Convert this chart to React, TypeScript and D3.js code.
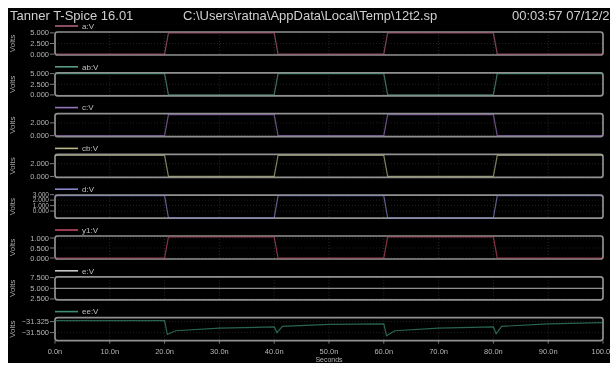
import * as d3 from "d3";

const titleLeft = "Tanner T-Spice 16.01";
const titleCenter = "C:\\Users\\ratna\\AppData\\Local\\Temp\\12t2.sp";
const titleRight = "00:03:57 07/12/2022";

const signalNames = ["a:V", "ab:V", "c:V", "cb:V", "d:V", "y1:V", "e:V", "ee:V"];
const signalColors = ["#b0607e", "#5a9a88", "#9474b8", "#b8b888", "#8686c8", "#c04862", "#c8c8c8", "#3a8f74"];

const yDomains: [number, number][] = [
  [-0.2, 5.2],
  [-0.2, 5.2],
  [-0.15, 3.45],
  [-0.15, 3.45],
  [-1.3, 2.9],
  [-0.05, 1.1],
  [2.3, 7.7],
  [-31.627, -31.261],
];
const yTicks = [
  [0, 2.5, 5],
  [0, 2.5, 5],
  [0, 2],
  [0, 2],
  [0, 1, 2, 3],
  [0, 0.5, 1],
  [2.5, 5, 7.5],
  [-31.5, -31.325],
];

const xTicksNs = [0, 10, 20, 30, 40, 50, 60, 70, 80, 90, 100];

// [time ns, volts]
const aWave = [[0, 0], [20, 0], [20.7, 5], [40, 5], [40.7, 0], [60, 0], [60.7, 5], [80, 5], [80.7, 0], [100, 0]];
const abWave = [[0, 5], [20, 5], [20.7, 0], [40, 0], [40.7, 5], [60, 5], [60.7, 0], [80, 0], [80.7, 5], [100, 5]];
const cWave = [[0, 0], [20, 0], [20.7, 3.3], [40, 3.3], [40.7, 0], [60, 0], [60.7, 3.3], [80, 3.3], [80.7, 0], [100, 0]];
const cbWave = [[0, 3.3], [20, 3.3], [20.7, 0], [40, 0], [40.7, 3.3], [60, 3.3], [60.7, 0], [80, 0], [80.7, 3.3], [100, 3.3]];
const dWave = [[0, 2.8], [20, 2.8], [20.7, -1.25], [40, -1.25], [40.7, 2.8], [60, 2.8], [60.7, -1.25], [80, -1.25], [80.7, 2.8], [100, 2.8]];
const y1Wave = [[0, 0], [20, 0], [20.7, 1.05], [40, 1.05], [40.7, 0], [60, 0], [60.7, 1.05], [80, 1.05], [80.7, 0], [100, 0]];
const eWave = [[0, 5], [100, 5]];
const eeWave = [
  [0, -31.31], [20, -31.31], [20.5, -31.53], [22, -31.47], [30, -31.43], [40, -31.41],
  [40.5, -31.5], [41.5, -31.4], [50, -31.37], [60, -31.36], [60.5, -31.55], [62, -31.47],
  [70, -31.43], [80, -31.41], [80.5, -31.52], [81.5, -31.4], [90, -31.36], [100, -31.34],
];
const waves = [aWave, abWave, cWave, cbWave, dWave, y1Wave, eWave, eeWave];

const FONT = "'Liberation Sans', Arial, sans-serif";

export default function App() {
  const width = 610;
  const height = 367;
  const plotLeft = 55;
  const plotRight = 603;
  const firstTop = 32;
  const step = 40.8;
  const panelH = 23;

  const x = d3.scaleLinear().domain([0, 100]).range([plotLeft, plotRight]);
  const fmt = d3.format(".3f");
  const lastBottom = firstTop + step * 7 + panelH;

  return (
    <div style={{ position: "fixed", left: 0, top: 0 }}>
      <svg width={width} height={height} style={{ display: "block" }}>
        <rect x={8} y={8} width={602} height={355} fill="#000" />

        {/* title bar */}
        <g fontFamily={FONT} fontSize={13} fill="#d0d0d0">
          <text x={10} y={19.5}>{titleLeft}</text>
          <text x={183} y={19.5}>{titleCenter}</text>
          <text x={512} y={19.5}>{titleRight}</text>
        </g>

        {signalNames.map((name, i) => {
          const top = firstTop + i * step;
          const bottom = top + panelH;
          const y = d3.scaleLinear().domain(yDomains[i]).range([bottom, top]);
          const line = d3
            .line<number[]>()
            .x((d) => x(d[0]))
            .y((d) => y(d[1]));
          const mid = (top + bottom) / 2;
          return (
            <g key={name}>
              {/* Volts label */}
              <text
                transform={`translate(15,${mid}) rotate(-90)`}
                textAnchor="middle"
                fontFamily={FONT}
                fontSize={8}
                fill="#a8a8a8"
              >
                Volts
              </text>

              {/* grid */}
              {xTicksNs.slice(1, -1).map((t) => (
                <line key={"v" + t} x1={x(t)} x2={x(t)} y1={top} y2={bottom}
                  stroke="#333" strokeWidth={0.8} strokeDasharray="1,2" />
              ))}
              {yTicks[i].map((v) => (
                <line key={"h" + v} x1={plotLeft} x2={plotRight} y1={y(v)} y2={y(v)}
                  stroke="#2a2a2a" strokeWidth={0.8} strokeDasharray="1,2" />
              ))}

              {/* y ticks */}
              {yTicks[i].map((v) => (
                <g key={"t" + v}>
                  <line x1={50} x2={54} y1={y(v)} y2={y(v)} stroke="#999" strokeWidth={0.8} />
                  <text x={49} y={y(v)} dy="0.34em" textAnchor="end" fontFamily={FONT}
                    fontSize={i === 4 ? 6.5 : 7.5} fill="#b4b4b4">
                    {fmt(v)}
                  </text>
                </g>
              ))}

              {/* panel frame */}
              <rect x={plotLeft} y={top} width={plotRight - plotLeft} height={panelH}
                rx={2.5} fill="none" stroke="#909090" strokeWidth={1.7} />

              {/* trace */}
              <path d={line(waves[i]) as string} fill="none" stroke={signalColors[i]}
                strokeWidth={1.2} opacity={0.7} />

              {/* legend */}
              <line x1={plotLeft} x2={78} y1={top - 6} y2={top - 6} stroke={signalColors[i]} strokeWidth={1.6} />
              <text x={82} y={top - 6} dy="0.34em" fontFamily={FONT} fontSize={8} fill="#c0c0c0">
                {name}
              </text>
            </g>
          );
        })}

        {/* x axis */}
        {xTicksNs.map((t) => (
          <g key={"x" + t}>
            <line x1={x(t)} x2={x(t)} y1={lastBottom} y2={lastBottom + 3} stroke="#999" strokeWidth={0.8} />
            <text x={x(t)} y={354} textAnchor="middle" fontFamily={FONT} fontSize={7.5} fill="#b4b4b4">
              {`${t.toFixed(1)}n`}
            </text>
          </g>
        ))}
        <text x={x(50)} y={361.5} textAnchor="middle" fontFamily={FONT} fontSize={7} fill="#b4b4b4">
          Seconds
        </text>
      </svg>
    </div>
  );
}
